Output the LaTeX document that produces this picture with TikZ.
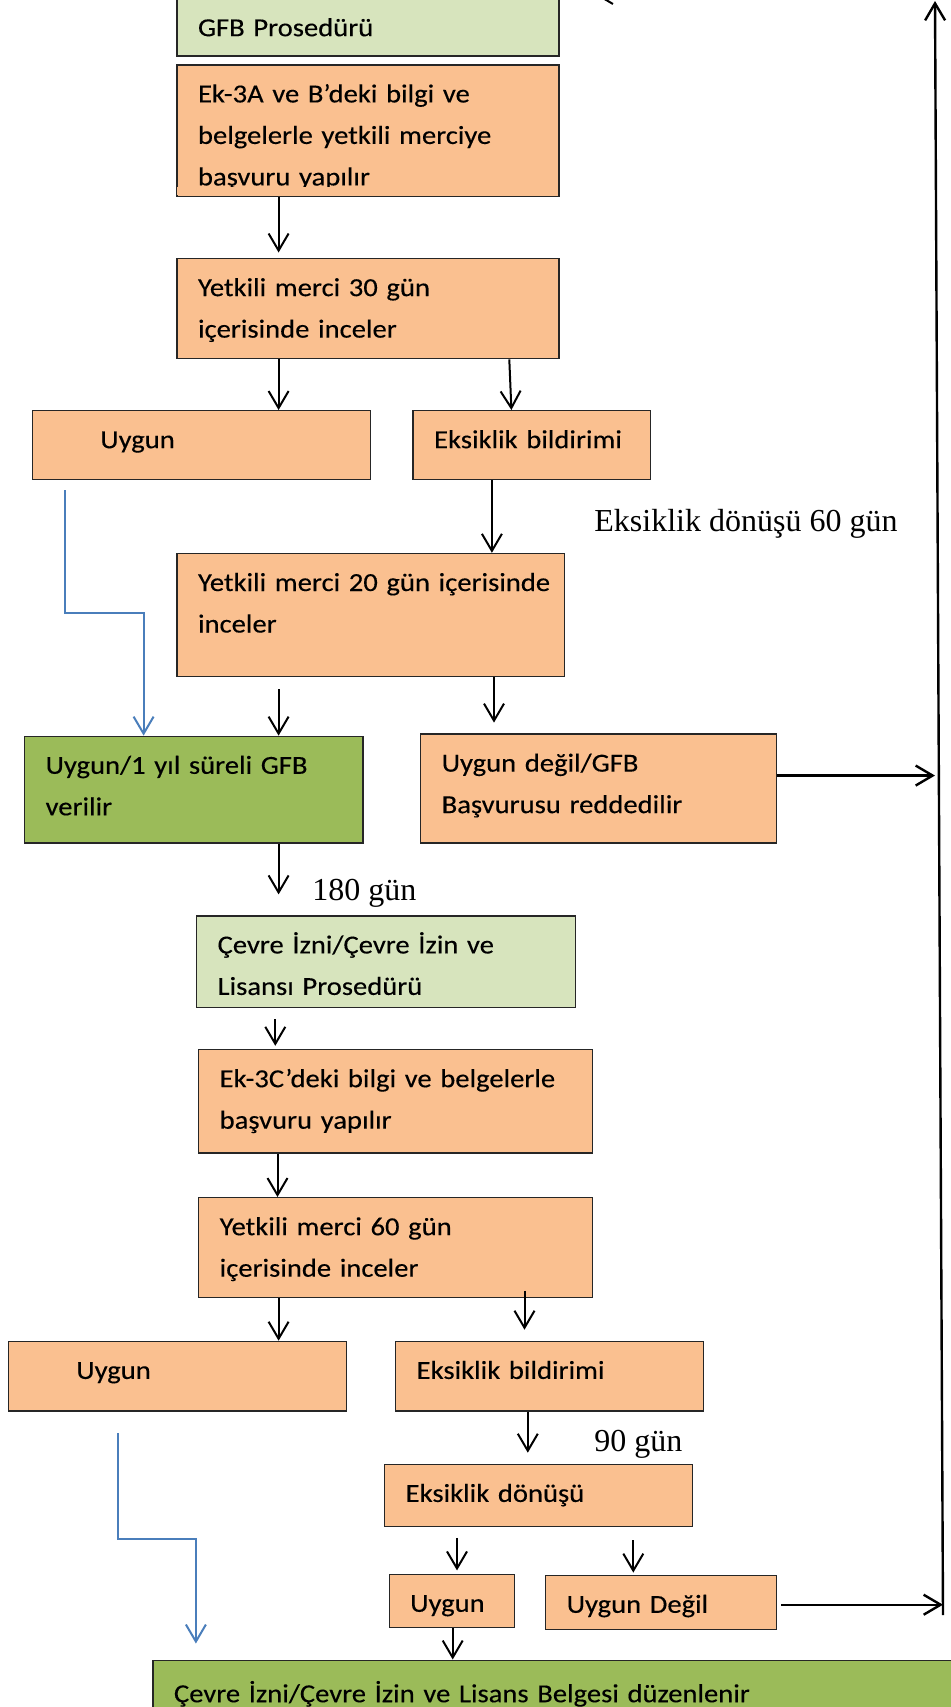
\documentclass[tikz,border=0pt]{standalone}
\usepackage{fontspec}
\newfontfamily\boxfont{Carlito}[FakeStretch=1.1, FakeBold=0.25]
\newfontfamily\notefont{Liberation Serif}
\usetikzlibrary{arrows.meta}
\definecolor{procgreen}{RGB}{215,228,189}
\definecolor{steporange}{RGB}{250,192,144}
\definecolor{okgreen}{RGB}{155,187,89}
\definecolor{flowblue}{RGB}{74,126,187}
\begin{document}
\begin{tikzpicture}[x=0.5pt, y=-0.5pt,
    flowbox/.style={draw=black!85, line width=0.7pt, anchor=north west, inner xsep=10.5pt, inner ysep=0pt,
        text height=18.75pt, align=left, font=\boxfont\fontsize{13pt}{20.75pt}\selectfont},
    note/.style={anchor=base west, inner sep=0pt, font=\notefont\fontsize{16pt}{19pt}\selectfont},
    arr/.style={-{Straight Barb[length=8.5pt,width=10pt]}, line width=1pt},
    bluearr/.style={arr, draw=flowblue}]
    \useasboundingbox (0,0) rectangle (950,1707);
    \node[flowbox, fill=procgreen, text width=170pt, text depth=10pt] (gfb) at (176.3,-2) {GFB Prosedürü};
    \node[flowbox, fill=steporange, text width=170pt, text depth=47.1pt] (ek3a) at (176.3,64.2)
        {Ek-3A ve B’deki bilgi ve\\belgelerle yetkili merciye\\başvuru yapılır};
    \fill[steporange] (177,187) rectangle (557.5,195);
    \node[flowbox, fill=steporange, text width=170pt, text depth=31.3pt] (y30) at (176.3,257.9)
        {Yetkili merci 30 gün\\içerisinde inceler};
    \node[flowbox, fill=steporange, text width=148.2pt, text depth=15.65pt] (uygunA) at (31.6,410) {\hspace*{23.5pt}Uygun};
    \node[flowbox, fill=steporange, text width=97.6pt, text depth=15.65pt] (eksA) at (412.4,410) {Eksiklik bildirimi};
    \node[flowbox, fill=steporange, text width=172.7pt, text depth=42.75pt] (y20) at (176.3,552.8)
        {\mbox{Yetkili merci 20 gün içerisinde}\\inceler};
    \node[flowbox, fill=okgreen, text width=148.25pt, text depth=34.6pt] (gfbok) at (23.9,735.6)
        {Uygun/1 yıl süreli GFB\\verilir};
    \node[flowbox, fill=steporange, text width=156.95pt, text depth=35.7pt] (gfbno) at (420,733.4)
        {Uygun değil/GFB\\Başvurusu reddedilir};
    \node[flowbox, fill=procgreen, text width=168.35pt, text depth=26.95pt] (cevre) at (195.9,915.2)
        {Çevre İzni/Çevre İzin ve\\Lisansı Prosedürü};
    \node[flowbox, fill=steporange, text width=176pt, text depth=32.95pt] (ek3c) at (198,1049)
        {Ek-3C’deki bilgi ve belgelerle\\başvuru yapılır};
    \node[flowbox, fill=steporange, text width=176pt, text depth=31.25pt] (y60) at (198,1197)
        {Yetkili merci 60 gün\\içerisinde inceler};
    \node[flowbox, fill=steporange, text width=148.2pt, text depth=16.05pt] (uygunB) at (7.6,1340.7) {\hspace*{23.5pt}Uygun};
    \node[flowbox, fill=steporange, text width=133pt, text depth=16.05pt] (eksB) at (395,1340.7) {Eksiklik bildirimi};
    \node[flowbox, fill=steporange, text width=133pt, text depth=12.25pt] (donus) at (384,1463.7) {Eksiklik dönüşü};
    \node[flowbox, fill=steporange, text width=41.55pt, text depth=7.85pt] (uygunC) at (388.5,1573.6) {Uygun};
    \node[flowbox, fill=steporange, text width=94.45pt, text depth=8.45pt] (degilC) at (545,1574.6) {Uygun Değil};
    \node[flowbox, fill=okgreen, text width=392.85pt, text height=21pt, text depth=19.25pt] (final) at (152.3,1659.5)
        {Çevre İzni/Çevre İzin ve Lisans Belgesi düzenlenir};
    \node[note] (n60) at (594,531) {Eksiklik dönüşü 60 gün};
    \node[note] (n180) at (312,900.5) {180 gün};
    \node[note] (n90) at (594,1451.5) {90 gün};
    \coordinate (rbot) at (943,1615);
    \coordinate (rtop) at (935,1);
    \coordinate (ltip) at (594,-6);
    \draw[arr, line width=1.2pt] (rbot) -- (rtop);
    \draw[arr] ([yshift=3.5pt]rtop) -- (ltip);
    \draw[arr, shorten >=2.7pt] ([xshift=51.15pt]ek3a.south west) -- ([xshift=51.15pt]ek3a.south west |- y30.north);
    \draw[arr] ([xshift=51.15pt]y30.south west) -- ([xshift=51.15pt]y30.south west |- uygunA.north);
    \draw[arr] ([xshift=166.5pt]y30.south west) -- ([xshift=49.5pt]eksA.north west);
    \draw[arr] ([xshift=39.75pt]eksA.south west) -- ([xshift=39.75pt]eksA.south west |- y20.north);
    \draw[bluearr] ([xshift=16.85pt,yshift=-4.9pt]uygunA.south west) -- ++(0,-61.5pt) -| ([xshift=59.85pt]gfbok.north west);
    \draw[arr, shorten <=6pt] ([xshift=51.15pt]y20.south west) -- ([xshift=51.15pt]y20.south west |- gfbok.north);
    \draw[arr, shorten >=5.4pt] ([xshift=158.85pt]y20.south west) -- ([xshift=158.85pt]y20.south west |- gfbno.north);
    \draw[arr, line width=1.2pt] ([yshift=6.5pt]gfbno.east) -- ([yshift=6.5pt]gfbno.east -| rtop);
    \draw[arr, shorten >=10.4pt] ([xshift=127.35pt]gfbok.south west) -- ([xshift=127.35pt]gfbok.south west |- cevre.north);
    \draw[arr, shorten <=5.5pt, shorten >=1.6pt] ([xshift=39.7pt]cevre.south west) -- ([xshift=39.7pt]cevre.south west |- ek3c.north);
    \draw[arr] ([xshift=39.75pt]ek3c.south west) -- ([xshift=39.75pt]ek3c.south west |- y60.north);
    \draw[arr] ([xshift=40.3pt]y60.south west) -- ([xshift=40.3pt]y60.south west |- uygunB.north);
    \draw[arr, shorten >=5.5pt] ([xshift=163.25pt,yshift=3.75pt]y60.south west) -- ([xshift=163.25pt]y60.south west |- eksB.north);
    \draw[arr, shorten >=5.5pt] ([xshift=66.4pt]eksB.south west) -- ([xshift=66.4pt]eksB.south west |- donus.north);
    \draw[arr, shorten <=5.4pt, shorten >=1.6pt] ([xshift=36.5pt]donus.south west) -- ([xshift=36.5pt]donus.south west |- uygunC.north);
    \draw[arr, shorten <=6.5pt, shorten >=1pt] ([xshift=124.65pt]donus.south west) -- ([xshift=124.65pt]donus.south west |- degilC.north);
    \draw[arr, line width=1.2pt, shorten <=2pt] ([yshift=-1.1pt]degilC.east) -- ([yshift=-1.1pt]degilC.east -| rbot);
    \draw[arr] ([xshift=32.1pt]uygunC.south west) -- ([xshift=32.1pt]uygunC.south west |- final.north);
    \draw[bluearr, shorten >=8pt] ([xshift=54.95pt,yshift=-10.85pt]uygunB.south west) -- ++(0,-52.8pt) -| ([xshift=21.8pt]final.north west);
\end{tikzpicture}
\end{document}
